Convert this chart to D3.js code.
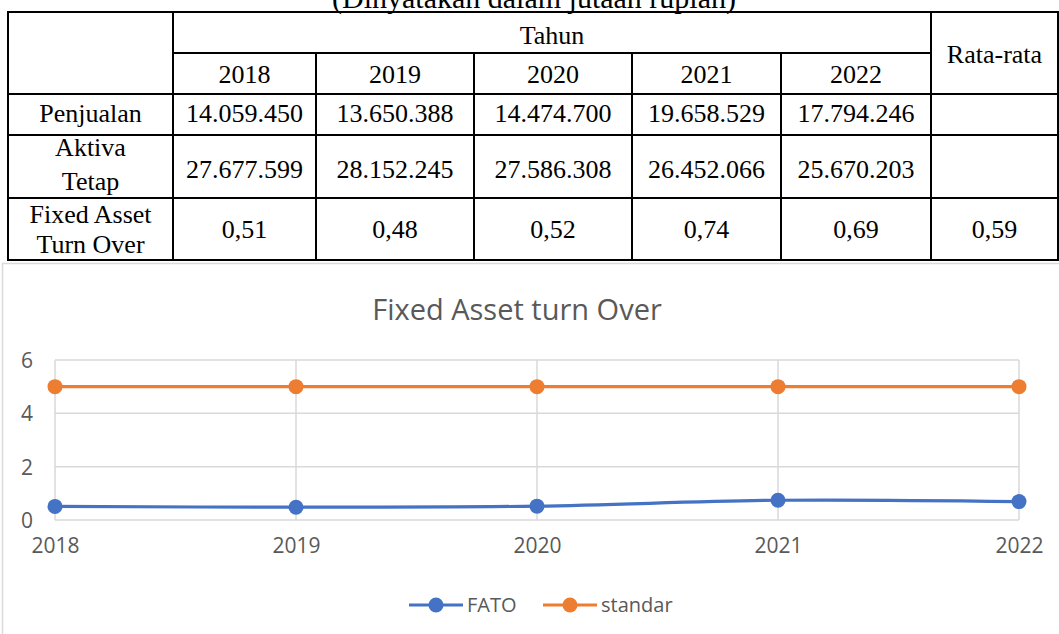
<!DOCTYPE html>
<html>
<head>
<meta charset="utf-8">
<script src="https://cdn.jsdelivr.net/npm/d3@7/dist/d3.min.js"></script>
<style>
  html, body { margin: 0; padding: 0; background: #fff; overflow: hidden; }
  svg { display: block; }
</style>
</head>
<body>
<svg id="c" width="1059" height="634"></svg>
<script>
// ---------- data ----------
const caption = "(Dinyatakan dalam jutaan rupiah)";
const years = ["2018", "2019", "2020", "2021", "2022"];
const rowLabels = [["Penjualan"], ["Aktiva", "Tetap"], ["Fixed Asset", "Turn Over"]];
const penjualan = ["14.059.450", "13.650.388", "14.474.700", "19.658.529", "17.794.246"];
const aktivaTetap = ["27.677.599", "28.152.245", "27.586.308", "26.452.066", "25.670.203"];
const fatoText = ["0,51", "0,48", "0,52", "0,74", "0,69"];
const rataRata = ["", "", "0,59"];

const chartTitle = "Fixed Asset turn Over";
const fato = [0.51, 0.48, 0.52, 0.74, 0.69];
const standar = [5, 5, 5, 5, 5];
const yTicks = [0, 2, 4, 6];
const seriesNames = ["FATO", "standar"];
const seriesColors = ["#4472C4", "#ED7D31"];

// ---------- svg ----------
const svg = d3.select("#c");

// ===== TABLE =====
const colX = [8, 173, 316, 474, 632, 781, 931, 1058];
const rowY = [12, 53, 94, 135, 198, 260];
const serif = "'Liberation Serif', 'Times New Roman', serif";
const tfs = 26;

const tbl = svg.append("g");

function ttext(x, y, s, size) {
  tbl.append("text")
    .attr("x", x).attr("y", y)
    .attr("text-anchor", "middle")
    .attr("font-family", serif)
    .attr("font-size", size || tfs)
    .attr("fill", "#000")
    .text(s);
}

// caption (partly above the visible area, as in the reference)
ttext(534, 8, caption, 30);

// borders
const line = (x1, y1, x2, y2) => tbl.append("line")
  .attr("x1", x1).attr("y1", y1).attr("x2", x2).attr("y2", y2)
  .attr("stroke", "#000").attr("stroke-width", 2);

line(colX[0] - 1, rowY[0], colX[7] + 1, rowY[0]);
line(colX[1], rowY[1], colX[6], rowY[1]);
for (let i = 2; i < rowY.length; i++) line(colX[0] - 1, rowY[i], colX[7] + 1, rowY[i]);
line(colX[0], rowY[0], colX[0], rowY[5]);
line(colX[1], rowY[0], colX[1], rowY[5]);
for (let i = 2; i <= 5; i++) line(colX[i], rowY[1], colX[i], rowY[5]);
line(colX[6], rowY[0], colX[6], rowY[5]);
line(colX[7], rowY[0], colX[7], rowY[5]);

const colCenter = i => (colX[i] + colX[i + 1]) / 2;

// header
ttext((colX[1] + colX[6]) / 2, 44, "Tahun");
ttext(colCenter(6), 63, "Rata-rata");
years.forEach((y, i) => ttext(colCenter(i + 1), 83, y));

// row labels
ttext(colCenter(0), 122, rowLabels[0][0]);
ttext(colCenter(0), 156, rowLabels[1][0]);
ttext(colCenter(0), 190, rowLabels[1][1]);
ttext(colCenter(0), 223, rowLabels[2][0]);
ttext(colCenter(0), 253, rowLabels[2][1]);

// values
penjualan.forEach((v, i) => ttext(colCenter(i + 1), 122, v));
aktivaTetap.forEach((v, i) => ttext(colCenter(i + 1), 178, v));
fatoText.forEach((v, i) => ttext(colCenter(i + 1), 238, v));
ttext(colCenter(6), 238, rataRata[2]);

// ===== CHART =====
const sans = "'Open Sans', sans-serif";
const grey = "#595959";
const gridC = "#d9d9d9";

svg.append("rect")
  .attr("x", 2.5).attr("y", 263.5).attr("width", 1100).attr("height", 400)
  .attr("fill", "none").attr("stroke", gridC).attr("stroke-width", 1.5);

svg.append("text")
  .attr("x", 517).attr("y", 320)
  .attr("text-anchor", "middle")
  .attr("font-family", sans).attr("font-size", 29)
  .attr("fill", grey)
  .text(chartTitle);

const x = d3.scalePoint().domain(years).range([55, 1019]);
const y = d3.scaleLinear().domain([0, 6]).range([520, 360]);

const plot = svg.append("g");

// gridlines
plot.append("g").selectAll("line").data(yTicks).join("line")
  .attr("x1", x.range()[0]).attr("x2", x.range()[1])
  .attr("y1", d => y(d)).attr("y2", d => y(d))
  .attr("stroke", gridC).attr("stroke-width", 1.5);
plot.append("g").selectAll("line").data(years).join("line")
  .attr("x1", d => x(d)).attr("x2", d => x(d))
  .attr("y1", y(6)).attr("y2", y(0))
  .attr("stroke", gridC).attr("stroke-width", 1.5);

// y axis labels
const yAxis = d3.axisLeft(y).tickValues(yTicks).tickFormat(d3.format("d")).tickSize(0).tickPadding(0);
const ya = plot.append("g").attr("transform", "translate(33,0)").call(yAxis);
ya.select(".domain").remove();
ya.selectAll("text").attr("font-family", sans).attr("font-size", 21).attr("fill", grey).attr("dy", "0.35em");

// x axis labels
const xAxis = d3.axisBottom(x).tickSize(0).tickPadding(0);
const xa = plot.append("g").attr("transform", "translate(0,538)").call(xAxis);
xa.select(".domain").remove();
xa.selectAll("text").attr("font-family", sans).attr("font-size", 21).attr("fill", grey).attr("dy", "0.71em");

// series
const series = [fato, standar];
const lineGen = d3.line()
  .x((d, i) => x(years[i]))
  .y(d => y(d))
  .curve(d3.curveCatmullRom.alpha(0.5));

series.forEach((vals, si) => {
  const g = plot.append("g");
  g.append("path").datum(vals)
    .attr("d", lineGen)
    .attr("fill", "none")
    .attr("stroke", seriesColors[si])
    .attr("stroke-width", 3.2)
    .attr("stroke-linecap", "round");
  g.selectAll("circle").data(vals).join("circle")
    .attr("cx", (d, i) => x(years[i]))
    .attr("cy", d => y(d))
    .attr("r", 7.5)
    .attr("fill", seriesColors[si]);
});

// legend
const legendItems = [
  { x0: 409, name: seriesNames[0], color: seriesColors[0] },
  { x0: 543, name: seriesNames[1], color: seriesColors[1] }
];
const lg = svg.append("g");
legendItems.forEach(it => {
  const ly = 605;
  lg.append("line").attr("x1", it.x0).attr("x2", it.x0 + 54)
    .attr("y1", ly).attr("y2", ly)
    .attr("stroke", it.color).attr("stroke-width", 3.2);
  lg.append("circle").attr("cx", it.x0 + 27).attr("cy", ly).attr("r", 7.5).attr("fill", it.color);
  lg.append("text").attr("x", it.x0 + 58).attr("y", ly).attr("dy", "0.35em")
    .attr("font-family", sans).attr("font-size", 20).attr("fill", grey)
    .text(it.name);
});
</script>
</body>
</html>
